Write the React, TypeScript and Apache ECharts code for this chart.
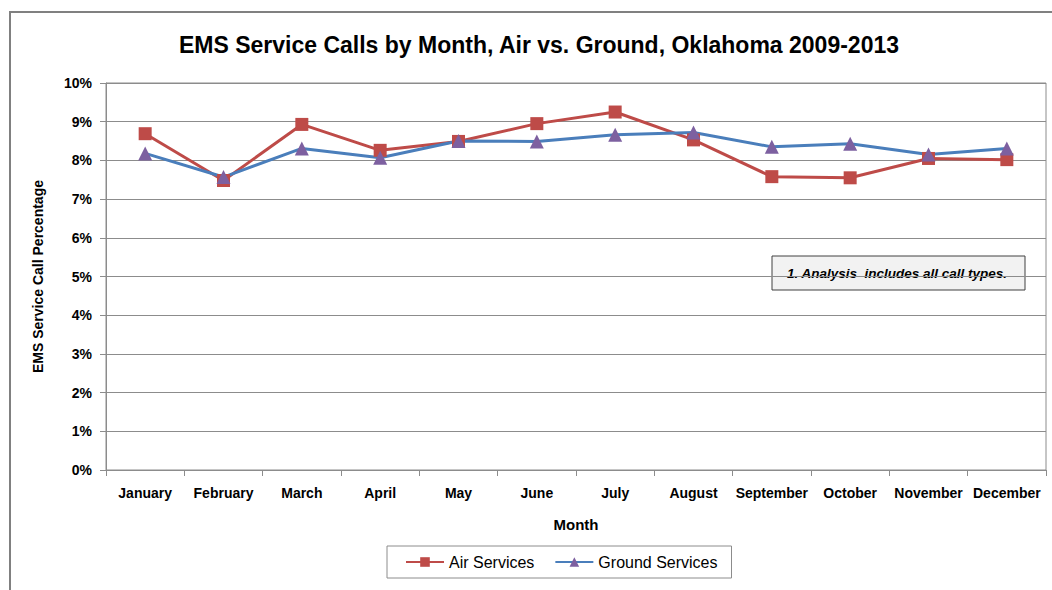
import React, { useEffect, useRef } from "react";
import * as echarts from "echarts";

const months = ["January", "February", "March", "April", "May", "June", "July", "August", "September", "October", "November", "December"];
const airServices = [8.69, 7.48, 8.93, 8.26, 8.49, 8.95, 9.25, 8.53, 7.58, 7.55, 8.05, 8.02];
const groundServices = [8.18, 7.57, 8.31, 8.07, 8.5, 8.49, 8.66, 8.72, 8.35, 8.43, 8.15, 8.31];
const titleText = "EMS Service Calls by Month, Air vs. Ground, Oklahoma 2009-2013";
const noteText = "1. Analysis  includes all call types.";

const FONT2 = '"Liberation Sans", Arial, sans-serif';

export default function App() {
  const ref = useRef<HTMLDivElement>(null);
  useEffect(() => {
    document.body.style.margin = "0";
    const chart = echarts.init(ref.current!, null, { renderer: "svg" });
    chart.setOption({
      animation: false,
      backgroundColor: "#ffffff",
      grid: { left: 106, right: 6, top: 83, bottom: 120, show: true, borderColor: "#8c8c8c", borderWidth: 1 },
      legend: {
        bottom: 12,
        left: 387,
        itemWidth: 38,
        itemHeight: 12,
        itemGap: 20,
        padding: [8, 14, 8, 18],
        borderColor: "#8c8c8c",
        borderWidth: 1,
        textStyle: { fontFamily: FONT2, fontSize: 16, color: "#000", fontWeight: "normal" },
        data: ["Air Services", "Ground Services"],
      },
      xAxis: {
        type: "category",
        data: months,
        boundaryGap: true,
        name: "Month",
        nameLocation: "middle",
        nameGap: 47,
        nameTextStyle: { fontFamily: FONT2, fontWeight: "bold", fontSize: 15, color: "#000" },
        axisLine: { lineStyle: { color: "#8c8c8c" } },
        axisTick: { show: true, alignWithLabel: false, length: 6, lineStyle: { color: "#8c8c8c" } },
        axisLabel: { interval: 0, margin: 16, fontFamily: FONT2, fontWeight: "bold", fontSize: 14, color: "#000" },
        splitLine: { show: false },
      },
      yAxis: {
        type: "value",
        min: 0,
        max: 10,
        interval: 1,
        name: "EMS Service Call Percentage",
        nameLocation: "middle",
        nameGap: 61,
        nameTextStyle: { fontFamily: FONT2, fontWeight: "bold", fontSize: 14, color: "#000" },
        axisLine: { show: true, lineStyle: { color: "#8c8c8c" } },
        axisTick: { show: true, length: 6, lineStyle: { color: "#8c8c8c" } },
        axisLabel: { formatter: "{value}%", margin: 14, fontFamily: FONT2, fontWeight: "bold", fontSize: 14, color: "#000" },
        splitLine: { show: true, lineStyle: { color: "#8c8c8c", width: 1 } },
      },
      series: [
        {
          name: "Air Services",
          type: "line",
          data: airServices,
          symbol: "rect",
          symbolSize: 13,
          lineStyle: { color: "#BE4B48", width: 3 },
          itemStyle: { color: "#BE4B48" },
        },
        {
          name: "Ground Services",
          type: "line",
          data: groundServices,
          symbol: "triangle",
          symbolSize: 14,
          lineStyle: { color: "#4A7EBB", width: 3 },
          itemStyle: { color: "#7D60A0" },
        },
      ],
      graphic: [
        {
          type: "rect",
          shape: { x: 10, y: 12, width: 1100, height: 620 },
          style: { fill: "none", stroke: "#808080", lineWidth: 2 },
          silent: true,
        },
        {
          type: "text",
          x: 539,
          y: 45,
          style: {
            text: titleText,
            fontFamily: FONT2,
            fontWeight: "bold",
            fontSize: 23,
            fill: "#000",
            align: "center",
            verticalAlign: "middle",
          },
        },
        {
          type: "rect",
          shape: { x: 772, y: 256, width: 253, height: 34 },
          style: { fill: "#f2f2f2", stroke: "#404040", lineWidth: 1 },
        },
        {
          type: "text",
          x: 897,
          y: 273,
          style: {
            text: noteText,
            fontFamily: FONT2,
            fontWeight: "bold",
            fontStyle: "italic",
            fontSize: 13.5,
            fill: "#000",
            align: "center",
            verticalAlign: "middle",
          },
        },
      ],
    });
    return () => chart.dispose();
  }, []);
  return <div ref={ref} style={{ position: "fixed", left: 0, top: 0, width: 1052, height: 590 }} />;
}
